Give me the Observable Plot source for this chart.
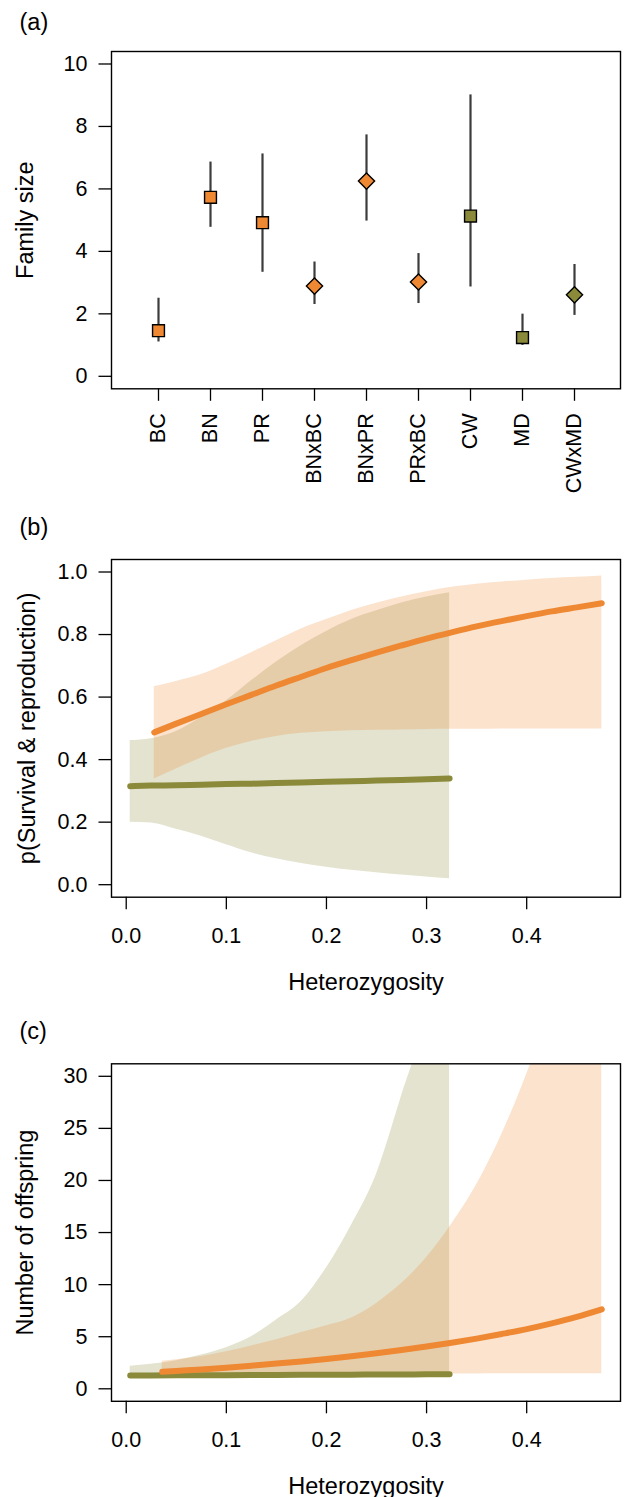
<!DOCTYPE html>
<html>
<head>
<meta charset="utf-8">
<script src="https://cdn.jsdelivr.net/npm/d3@7"></script>
<script src="https://cdn.jsdelivr.net/npm/@observablehq/plot@0.6"></script>
<style>
  body { margin: 0; background: #fff; }
  #chart { width: 624px; }
  #chart svg { display: block; }
</style>
</head>
<body>
<div id="chart"></div>
<script>
// ---------- Panel (a): family size ----------
const groups      = ["BC", "BN", "PR", "BNxBC", "BNxPR", "PRxBC", "CW", "MD", "CWxMD"];
const familyMean  = [1.46, 5.73, 4.92, 2.89, 6.25, 3.02, 5.13, 1.24, 2.61];
const familyLow   = [1.10, 4.77, 3.33, 2.30, 4.97, 2.33, 2.86, 0.99, 1.95];
const familyHigh  = [2.50, 6.86, 7.12, 3.66, 7.73, 3.93, 9.01, 1.99, 3.58];
const groupType   = ["pure", "pure", "pure", "cross", "cross", "cross", "pure", "pure", "cross"];
const groupLineage = ["lineage 1", "lineage 1", "lineage 1", "lineage 1", "lineage 1", "lineage 1", "lineage 2", "lineage 2", "lineage 2"];
const familyTicks = [0, 2, 4, 6, 8, 10];

// ---------- Panel (b): p(Survival & reproduction) ----------
const hetL1 = [0.028, 0.05, 0.075, 0.1, 0.125, 0.15, 0.175, 0.2, 0.225, 0.25, 0.275, 0.3, 0.325, 0.35, 0.375, 0.4, 0.425, 0.45, 0.475];
const survL1Mean = [0.487, 0.515, 0.546, 0.577, 0.607, 0.637, 0.665, 0.693, 0.718, 0.742, 0.765, 0.787, 0.807, 0.826, 0.843, 0.859, 0.874, 0.887, 0.900];
const survL1High = [0.633, 0.650, 0.672, 0.705, 0.742, 0.780, 0.818, 0.848, 0.877, 0.900, 0.920, 0.937, 0.951, 0.961, 0.968, 0.974, 0.979, 0.983, 0.987];
const survL1Low  = [0.338, 0.370, 0.405, 0.436, 0.458, 0.474, 0.484, 0.489, 0.492, 0.494, 0.495, 0.496, 0.497, 0.497, 0.498, 0.498, 0.498, 0.498, 0.498];

const hetL2 = [0.004, 0.025, 0.05, 0.075, 0.1, 0.125, 0.15, 0.175, 0.2, 0.225, 0.25, 0.275, 0.3, 0.323];
const survL2Mean = [0.315, 0.317, 0.318, 0.320, 0.322, 0.323, 0.325, 0.327, 0.329, 0.331, 0.333, 0.335, 0.337, 0.340];
const survL2High = [0.461, 0.467, 0.490, 0.535, 0.588, 0.652, 0.712, 0.765, 0.810, 0.848, 0.876, 0.901, 0.920, 0.934];
const survL2Low  = [0.200, 0.197, 0.177, 0.155, 0.128, 0.102, 0.083, 0.068, 0.056, 0.046, 0.038, 0.031, 0.025, 0.019];

// ---------- Panel (c): number of offspring ----------
const hetL1c = [0.036, 0.05, 0.075, 0.1, 0.125, 0.15, 0.175, 0.2, 0.225, 0.25, 0.275, 0.3, 0.325, 0.35, 0.375, 0.4, 0.425, 0.45, 0.475];
const offL1Mean = [1.63, 1.71, 1.86, 2.03, 2.22, 2.42, 2.63, 2.87, 3.13, 3.41, 3.72, 4.06, 4.42, 4.82, 5.26, 5.73, 6.28, 6.90, 7.62];
const offL1High = [2.65, 2.80, 3.10, 3.55, 4.10, 4.70, 5.40, 6.05, 6.80, 8.20, 10.1, 12.6, 15.8, 19.6, 24.4, 30.2, 37.0, 45.0, 55.0];
const offL1Low  = [1.38, 1.38, 1.39, 1.39, 1.40, 1.40, 1.41, 1.41, 1.42, 1.42, 1.42, 1.43, 1.43, 1.43, 1.44, 1.44, 1.44, 1.44, 1.44];

const hetL2c = [0.004, 0.025, 0.05, 0.075, 0.1, 0.125, 0.15, 0.175, 0.2, 0.225, 0.25, 0.275, 0.3, 0.323];
const offL2Mean = [1.27, 1.28, 1.29, 1.30, 1.31, 1.32, 1.33, 1.34, 1.35, 1.36, 1.37, 1.38, 1.39, 1.40];
const offL2High = [2.17, 2.35, 2.70, 3.25, 3.95, 5.00, 6.60, 8.40, 11.6, 15.7, 20.6, 28.1, 36.0, 48.0];
const offL2Low  = [1.10, 1.11, 1.12, 1.12, 1.13, 1.14, 1.15, 1.16, 1.17, 1.18, 1.19, 1.20, 1.21, 1.22];

const hetTicks = [0, 0.1, 0.2, 0.3, 0.4];
const survTicks = [0, 0.2, 0.4, 0.6, 0.8, 1.0];
const offTicks = [0, 5, 10, 15, 20, 25, 30];

// ---------- styling ----------
const FONT = "'Liberation Sans', Arial, Helvetica, sans-serif";
const ORANGE = "#EE8833";
const OLIVE = "#8A8A3A";
const BAND_OPACITY = 0.24;
const W = 624, H = 499, ML = 111, MR = 4;
const TICK = 12.5, TICKW = 1.3, FS = 21.5, TFS = 23.5;
const f1 = d3.format(".1f");

const famData = groups.map((g, i) => ({group: g, mean: familyMean[i], low: familyLow[i], high: familyHigh[i], type: groupType[i], lineage: groupLineage[i]}));
const zipBand = (xs, m, lo, hi) => xs.map((x, i) => ({het: x, mean: m[i], low: lo[i], high: hi[i]}));
const survL1 = zipBand(hetL1, survL1Mean, survL1Low, survL1High);
const survL2 = zipBand(hetL2, survL2Mean, survL2Low, survL2High);
const offL1 = zipBand(hetL1c, offL1Mean, offL1Low, offL1High);
const offL2 = zipBand(hetL2c, offL2Mean, offL2Low, offL2High);

const style = {fontFamily: FONT, fontSize: FS + "px", color: "black", background: "white", overflow: "visible"};
const colorScale = {domain: ["lineage 1", "lineage 2"], range: [ORANGE, OLIVE]};

function panelLabel(txt, dy) {
  return Plot.text([txt], {frameAnchor: "top-left", dx: -92, dy, textAnchor: "start", lineAnchor: "bottom", fontSize: TFS, fill: "black"});
}
function yTitle(txt, dx) {
  return Plot.text([txt], {frameAnchor: "left", rotate: -90, dx, textAnchor: "middle", lineAnchor: "top", fontSize: TFS, fill: "black"});
}
function xTitle(txt, dy) {
  return Plot.text([txt], {frameAnchor: "bottom", dy, textAnchor: "middle", lineAnchor: "bottom", fontSize: TFS, fill: "black"});
}

// Panel (a)
const plotA = Plot.plot({
  width: W, height: H, marginLeft: ML, marginRight: MR, marginTop: 51, marginBottom: H - 388.3,
  style,
  x: {type: "point", domain: groups, padding: 0.86, label: null},
  y: {domain: [-0.4, 10.4], label: null},
  color: colorScale,
  marks: [
    Plot.ruleX(famData, {x: "group", y1: "low", y2: "high", stroke: "#3c3c3c", strokeWidth: 2.2}),
    Plot.dot(famData, {filter: d => d.type === "pure", x: "group", y: "mean", symbol: "square", r: 6.7, fill: "lineage", stroke: "black", strokeWidth: 1.4}),
    Plot.dot(famData, {filter: d => d.type === "cross", x: "group", y: "mean", symbol: "diamond2", r: 7.3, fill: "lineage", stroke: "black", strokeWidth: 1.4}),
    Plot.axisY({ticks: familyTicks, tickSize: TICK, tickPadding: 11.5, strokeWidth: TICKW, fontSize: FS, label: null}),
    Plot.axisX({tickRotate: -90, tickSize: TICK, tickPadding: 12, strokeWidth: TICKW, fontSize: FS, label: null}),
    Plot.frame({stroke: "black", strokeWidth: 1.4}),
    yTitle("Family size", -95),
    panelLabel("(a)", -22)
  ]
});

// Panel (b)
const plotB = Plot.plot({
  width: W, height: H, marginLeft: ML, marginRight: MR, marginTop: 60, marginBottom: H - 397.7,
  style,
  x: {domain: [-0.0147, 0.4937], label: null},
  y: {domain: [-0.04, 1.04], label: null},
  marks: [
    Plot.areaY(survL2, {x: "het", y1: "low", y2: "high", fill: OLIVE, fillOpacity: BAND_OPACITY, curve: "monotone-x"}),
    Plot.areaY(survL1, {x: "het", y1: "low", y2: "high", fill: ORANGE, fillOpacity: BAND_OPACITY, curve: "monotone-x"}),
    Plot.lineY(survL2, {x: "het", y: "mean", stroke: OLIVE, strokeWidth: 6, strokeLinecap: "round", curve: "monotone-x"}),
    Plot.lineY(survL1, {x: "het", y: "mean", stroke: ORANGE, strokeWidth: 6, strokeLinecap: "round", curve: "monotone-x"}),
    Plot.axisY({ticks: survTicks, tickFormat: f1, tickSize: TICK, tickPadding: 11.5, strokeWidth: TICKW, fontSize: FS, label: null}),
    Plot.axisX({ticks: hetTicks, tickFormat: f1, tickSize: TICK, tickPadding: 18, strokeWidth: TICKW, fontSize: FS, label: null}),
    Plot.frame({stroke: "black", strokeWidth: 1.4}),
    yTitle("p(Survival & reproduction)", -93),
    xTitle("Heterozygosity", 92.3),
    panelLabel("(b)", -24.5)
  ]
});

// Panel (c)
const plotC = Plot.plot({
  width: W, height: H, marginLeft: ML, marginRight: MR, marginTop: 65.3, marginBottom: H - 402.8,
  style,
  x: {domain: [-0.0147, 0.4937], label: null},
  y: {domain: [-1.2, 31.2], label: null},
  marks: [
    Plot.areaY(offL2, {x: "het", y1: "low", y2: "high", fill: OLIVE, fillOpacity: BAND_OPACITY, curve: "monotone-x", clip: true}),
    Plot.areaY(offL1, {x: "het", y1: "low", y2: "high", fill: ORANGE, fillOpacity: BAND_OPACITY, curve: "monotone-x", clip: true}),
    Plot.lineY(offL2, {x: "het", y: "mean", stroke: OLIVE, strokeWidth: 6, strokeLinecap: "round", curve: "monotone-x"}),
    Plot.lineY(offL1, {x: "het", y: "mean", stroke: ORANGE, strokeWidth: 6, strokeLinecap: "round", curve: "monotone-x"}),
    Plot.axisY({ticks: offTicks, tickSize: TICK, tickPadding: 11.5, strokeWidth: TICKW, fontSize: FS, label: null}),
    Plot.axisX({ticks: hetTicks, tickFormat: f1, tickSize: TICK, tickPadding: 18, strokeWidth: TICKW, fontSize: FS, label: null}),
    Plot.frame({stroke: "black", strokeWidth: 1.4}),
    yTitle("Number of offspring", -95),
    xTitle("Heterozygosity", 92.3),
    panelLabel("(c)", -24.8)
  ]
});

const chart = document.getElementById("chart");
chart.append(plotA, plotB, plotC);
</script>
</body>
</html>
